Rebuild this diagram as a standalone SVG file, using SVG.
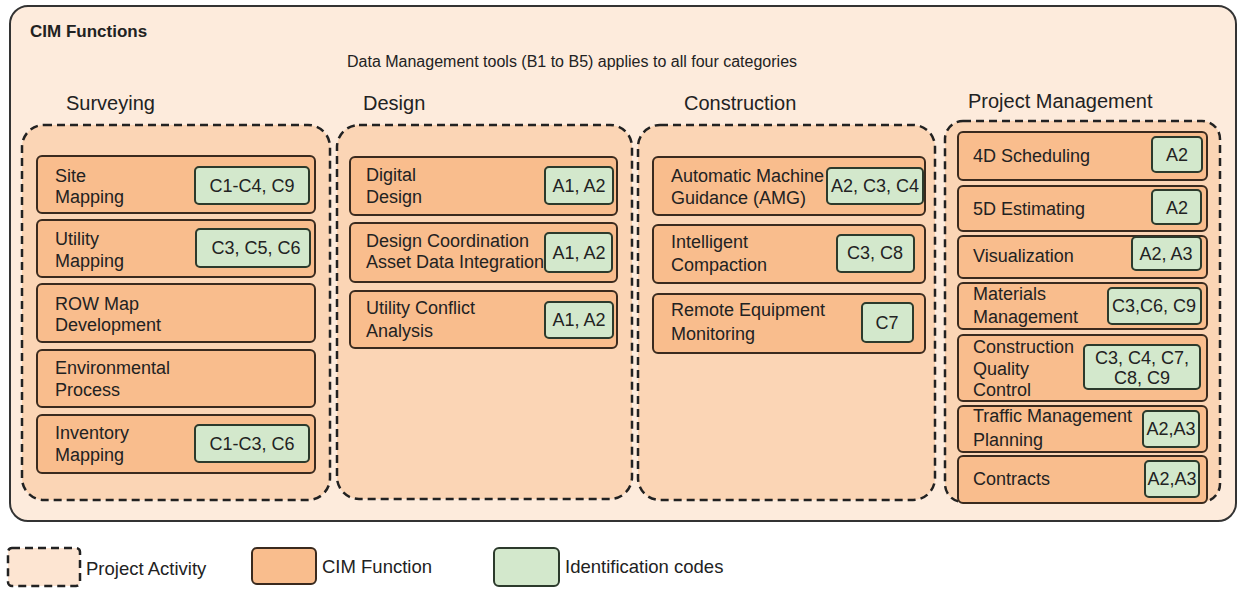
<svg xmlns="http://www.w3.org/2000/svg" width="1239" height="594" viewBox="0 0 1239 594">
<style>
text{font-family:"Liberation Sans",Arial,sans-serif;fill:#222;}
.t{font-size:18px;}
.h{font-size:20px;}
.b{font-size:18px;text-anchor:middle;}
.lg{font-size:18.5px;}
.act{fill:#fbd5b5;stroke:#222;stroke-width:2.5;stroke-dasharray:8 5;}
.fn{fill:#f9bd8d;stroke:#3a2a1e;stroke-width:2;}
.code{fill:#d3e8cc;stroke:#2c3a2c;stroke-width:2;}
</style>
<rect x="0" y="0" width="1239" height="594" fill="#ffffff"/>
<g id="cim-functions">
<rect x="10" y="6" width="1226" height="515" rx="18" fill="#fdebdc" stroke="#333" stroke-width="2"/>
<text x="30" y="37" style="font-size:17px;font-weight:bold">CIM Functions</text>
<text x="347" y="67" style="font-size:16px">Data Management tools (B1 to B5) applies to all four categories</text>
</g>
<g id="surveying">
<text class="h" x="66" y="110">Surveying</text>
<rect class="act" x="22" y="125" width="308" height="375" rx="22"/>
</g>
<g id="design">
<text class="h" x="363" y="110">Design</text>
<rect class="act" x="337" y="125" width="295" height="374" rx="22"/>
</g>
<g id="construction">
<text class="h" x="684" y="110">Construction</text>
<rect class="act" x="638" y="125" width="297" height="375" rx="22"/>
</g>
<g id="project-management">
<text class="h" x="968" y="108">Project Management</text>
<rect class="act" x="945" y="121" width="275" height="381" rx="18"/>
</g>
<g id="site-mapping">
<rect class="fn" x="37" y="156" width="278" height="57" rx="5"/>
<text class="t" x="55" y="182">Site</text><text class="t" x="55" y="203">Mapping</text>
<rect class="code" x="195" y="167" width="114" height="37" rx="4"/>
<text class="b" x="252" y="192">C1-C4, C9</text>
</g>
<g id="utility-mapping">
<rect class="fn" x="37" y="220" width="278" height="57" rx="5"/>
<text class="t" x="55" y="245">Utility</text><text class="t" x="55" y="267">Mapping</text>
<rect class="code" x="196" y="229" width="114" height="38" rx="4"/>
<text class="b" x="256" y="254">C3, C5, C6</text>
</g>
<g id="row-map">
<rect class="fn" x="37" y="284" width="278" height="58" rx="5"/>
<text class="t" x="55" y="310">ROW Map</text><text class="t" x="55" y="331">Development</text>
</g>
<g id="environmental">
<rect class="fn" x="37" y="350" width="278" height="57" rx="5"/>
<text class="t" x="55" y="374">Environmental</text><text class="t" x="55" y="396">Process</text>
</g>
<g id="inventory-mapping">
<rect class="fn" x="37" y="415" width="278" height="58" rx="5"/>
<text class="t" x="55" y="439">Inventory</text><text class="t" x="55" y="461">Mapping</text>
<rect class="code" x="195" y="425" width="114" height="37" rx="4"/>
<text class="b" x="252" y="450">C1-C3, C6</text>
</g>
<g id="digital-design">
<rect class="fn" x="350" y="157" width="267" height="58" rx="5"/>
<text class="t" x="366" y="181">Digital</text><text class="t" x="366" y="203">Design</text>
<rect class="code" x="545" y="167" width="68" height="37" rx="4"/>
<text class="b" x="579" y="192">A1, A2</text>
</g>
<g id="design-coordination">
<rect class="fn" x="350" y="223" width="267" height="59" rx="5"/>
<text class="t" x="366" y="247">Design Coordination</text><text class="t" x="366" y="268">Asset Data Integration</text>
<rect class="code" x="545" y="233" width="67" height="39" rx="4"/>
<text class="b" x="579" y="259">A1, A2</text>
</g>
<g id="utility-conflict">
<rect class="fn" x="350" y="291" width="267" height="57" rx="5"/>
<text class="t" x="366" y="314">Utility Conflict</text><text class="t" x="366" y="337">Analysis</text>
<rect class="code" x="545" y="302" width="68" height="36" rx="4"/>
<text class="b" x="579" y="326">A1, A2</text>
</g>
<g id="amg">
<rect class="fn" x="653" y="157" width="272" height="58" rx="5"/>
<text class="t" x="671" y="182">Automatic Machine</text><text class="t" x="671" y="204">Guidance (AMG)</text>
<rect class="code" x="827" y="168" width="96" height="36" rx="4"/>
<text class="b" x="875" y="192">A2, C3, C4</text>
</g>
<g id="intelligent-compaction">
<rect class="fn" x="653" y="225" width="272" height="58" rx="5"/>
<text class="t" x="671" y="248">Intelligent</text><text class="t" x="671" y="271">Compaction</text>
<rect class="code" x="837" y="235" width="77" height="37" rx="4"/>
<text class="b" x="875" y="259">C3, C8</text>
</g>
<g id="remote-monitoring">
<rect class="fn" x="653" y="294" width="272" height="59" rx="5"/>
<text class="t" x="671" y="316">Remote Equipment</text><text class="t" x="671" y="340">Monitoring</text>
<rect class="code" x="862" y="303" width="51" height="39" rx="4"/>
<text class="b" x="887" y="329">C7</text>
</g>
<g id="scheduling-4d">
<rect class="fn" x="958" y="132" width="249" height="48" rx="5"/>
<text class="t" x="973" y="162">4D Scheduling</text>
<rect class="code" x="1152" y="137" width="50" height="35" rx="4"/>
<text class="b" x="1177" y="161">A2</text>
</g>
<g id="estimating-5d">
<rect class="fn" x="958" y="186" width="249" height="45" rx="5"/>
<text class="t" x="973" y="215">5D Estimating</text>
<rect class="code" x="1152" y="190" width="49" height="34" rx="4"/>
<text class="b" x="1177" y="214">A2</text>
</g>
<g id="visualization">
<rect class="fn" x="958" y="236" width="249" height="42" rx="5"/>
<text class="t" x="973" y="262">Visualization</text>
<rect class="code" x="1132" y="237" width="69" height="33" rx="4"/>
<text class="b" x="1166" y="260">A2, A3</text>
</g>
<g id="materials-management">
<rect class="fn" x="958" y="283" width="249" height="46" rx="5"/>
<text class="t" x="973" y="300">Materials</text><text class="t" x="973" y="323">Management</text>
<rect class="code" x="1108" y="288" width="93" height="36" rx="4"/>
<text class="b" x="1154" y="312">C3,C6, C9</text>
</g>
<g id="quality-control">
<rect class="fn" x="958" y="335" width="249" height="66" rx="5"/>
<text class="t" x="973" y="353">Construction</text><text class="t" x="973" y="375">Quality</text><text class="t" x="973" y="396">Control</text>
<rect class="code" x="1084" y="345" width="116" height="44" rx="4"/>
<text class="b" x="1142" y="364">C3, C4, C7,</text><text class="b" x="1142" y="384">C8, C9</text>
</g>
<g id="traffic-management">
<rect class="fn" x="958" y="406" width="249" height="46" rx="5"/>
<text class="t" x="973" y="422">Traffic Management</text><text class="t" x="973" y="446">Planning</text>
<rect class="code" x="1143" y="411" width="56" height="36" rx="4"/>
<text class="b" x="1171" y="435">A2,A3</text>
</g>
<g id="contracts">
<rect class="fn" x="958" y="456" width="249" height="47" rx="5"/>
<text class="t" x="973" y="485">Contracts</text>
<rect class="code" x="1145" y="461" width="54" height="36" rx="4"/>
<text class="b" x="1172" y="485">A2,A3</text>
</g>
<g id="connectors"></g>
<g id="legend">
<rect x="8" y="548" width="72" height="38" rx="4" fill="#fde5d2" stroke="#222" stroke-width="2.5" stroke-dasharray="8 5"/>
<text class="lg" x="86" y="575">Project Activity</text>
<rect class="fn" x="252" y="548" width="64" height="36" rx="5"/>
<text class="lg" x="322" y="573">CIM Function</text>
<rect class="code" x="494" y="548" width="65" height="38" rx="5"/>
<text class="lg" x="565" y="573">Identification codes</text>
</g>
</svg>
